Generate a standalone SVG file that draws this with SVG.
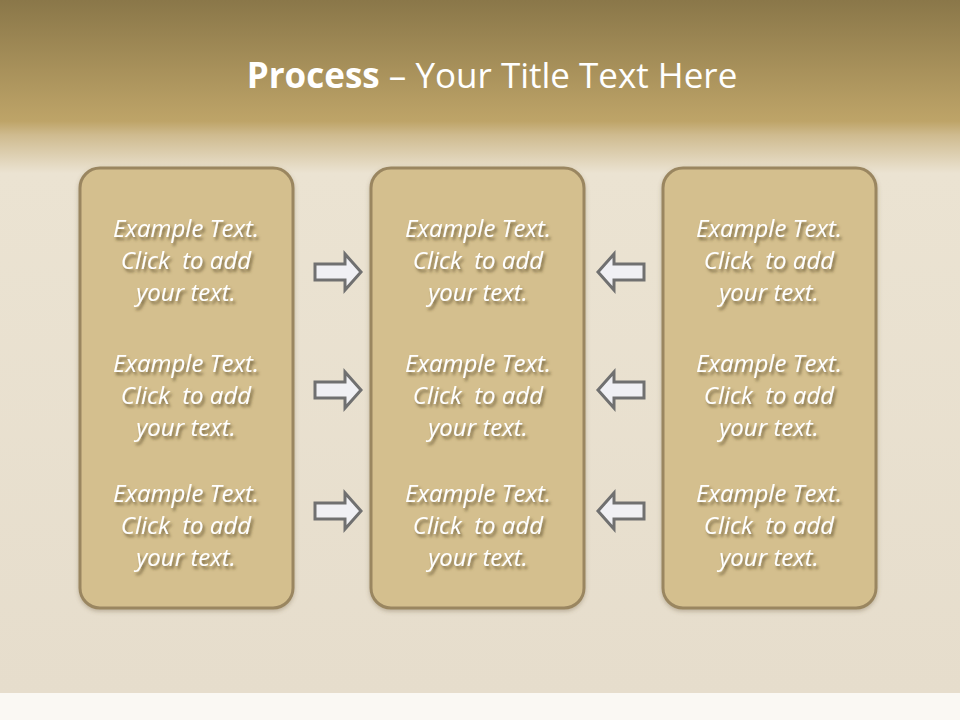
<svg xmlns="http://www.w3.org/2000/svg" width="960" height="720" viewBox="0 0 960 720">
<defs>
<linearGradient id="bg" x1="0" y1="0" x2="0" y2="1" gradientUnits="objectBoundingBox">
<stop offset="0" stop-color="#8a7749"/>
<stop offset="0.175" stop-color="#bea468"/>
<stop offset="0.195" stop-color="#cfbb8f"/>
<stop offset="0.25" stop-color="#ebe3d2"/>
<stop offset="1" stop-color="#e6ddcc"/>
</linearGradient>
<filter id="ts" x="-20%" y="-40%" width="140%" height="180%">
<feDropShadow dx="2" dy="3" stdDeviation="1.8" flood-color="#5a4a2a" flood-opacity="0.75"/>
</filter>
<filter id="bs" x="-10%" y="-10%" width="120%" height="120%">
<feDropShadow dx="0" dy="2" stdDeviation="2" flood-color="#6a5a3a" flood-opacity="0.35"/>
</filter>
<path id="arrR" d="M0,-8 H30 V-18 L46,0 L30,18 V8 H0 Z"/>
</defs>
<style>
.box{fill:#d4bf8e;stroke:#9a8660;stroke-width:3}
.t{font-family:"Open Sans","Liberation Sans",sans-serif;font-style:italic;font-size:24px;fill:#ffffff;text-anchor:middle;white-space:pre}
.arrow{fill:#f0f0f4;stroke:#707070;stroke-width:3;stroke-linejoin:miter}
.title{font-family:"Open Sans","Liberation Sans",sans-serif;font-size:35px;fill:#ffffff;text-anchor:middle}
</style>
<rect x="0" y="0" width="960" height="693" fill="url(#bg)"/>
<rect x="0" y="693" width="960" height="27" fill="#faf8f3"/>
<text class="title" x="492" y="88"><tspan font-weight="bold">Process</tspan> – Your Title Text Here</text>

<g id="box-left" filter="url(#bs)">
<rect class="box" x="80" y="168" width="213" height="440" rx="20"/>
</g>
<g id="box-middle" filter="url(#bs)">
<rect class="box" x="371" y="168" width="213" height="440" rx="20"/>
</g>
<g id="box-right" filter="url(#bs)">
<rect class="box" x="663" y="168" width="213" height="440" rx="20"/>
</g>

<g id="texts" filter="url(#ts)" xml:space="preserve">
<text class="t" x="186" y="237">Example Text.</text>
<text class="t" x="186" y="269">Click  to add</text>
<text class="t" x="186" y="301">your text.</text>
<text class="t" x="186" y="372">Example Text.</text>
<text class="t" x="186" y="404">Click  to add</text>
<text class="t" x="186" y="436">your text.</text>
<text class="t" x="186" y="502">Example Text.</text>
<text class="t" x="186" y="534">Click  to add</text>
<text class="t" x="186" y="566">your text.</text>

<text class="t" x="478" y="237">Example Text.</text>
<text class="t" x="478" y="269">Click  to add</text>
<text class="t" x="478" y="301">your text.</text>
<text class="t" x="478" y="372">Example Text.</text>
<text class="t" x="478" y="404">Click  to add</text>
<text class="t" x="478" y="436">your text.</text>
<text class="t" x="478" y="502">Example Text.</text>
<text class="t" x="478" y="534">Click  to add</text>
<text class="t" x="478" y="566">your text.</text>

<text class="t" x="769" y="237">Example Text.</text>
<text class="t" x="769" y="269">Click  to add</text>
<text class="t" x="769" y="301">your text.</text>
<text class="t" x="769" y="372">Example Text.</text>
<text class="t" x="769" y="404">Click  to add</text>
<text class="t" x="769" y="436">your text.</text>
<text class="t" x="769" y="502">Example Text.</text>
<text class="t" x="769" y="534">Click  to add</text>
<text class="t" x="769" y="566">your text.</text>
</g>

<g id="connectors">
<use href="#arrR" class="arrow" transform="translate(315,272)"/>
<use href="#arrR" class="arrow" transform="translate(315,390)"/>
<use href="#arrR" class="arrow" transform="translate(315,511)"/>
<use href="#arrR" class="arrow" transform="translate(644,272) scale(-1,1)"/>
<use href="#arrR" class="arrow" transform="translate(644,390) scale(-1,1)"/>
<use href="#arrR" class="arrow" transform="translate(644,511) scale(-1,1)"/>
</g>
</svg>
